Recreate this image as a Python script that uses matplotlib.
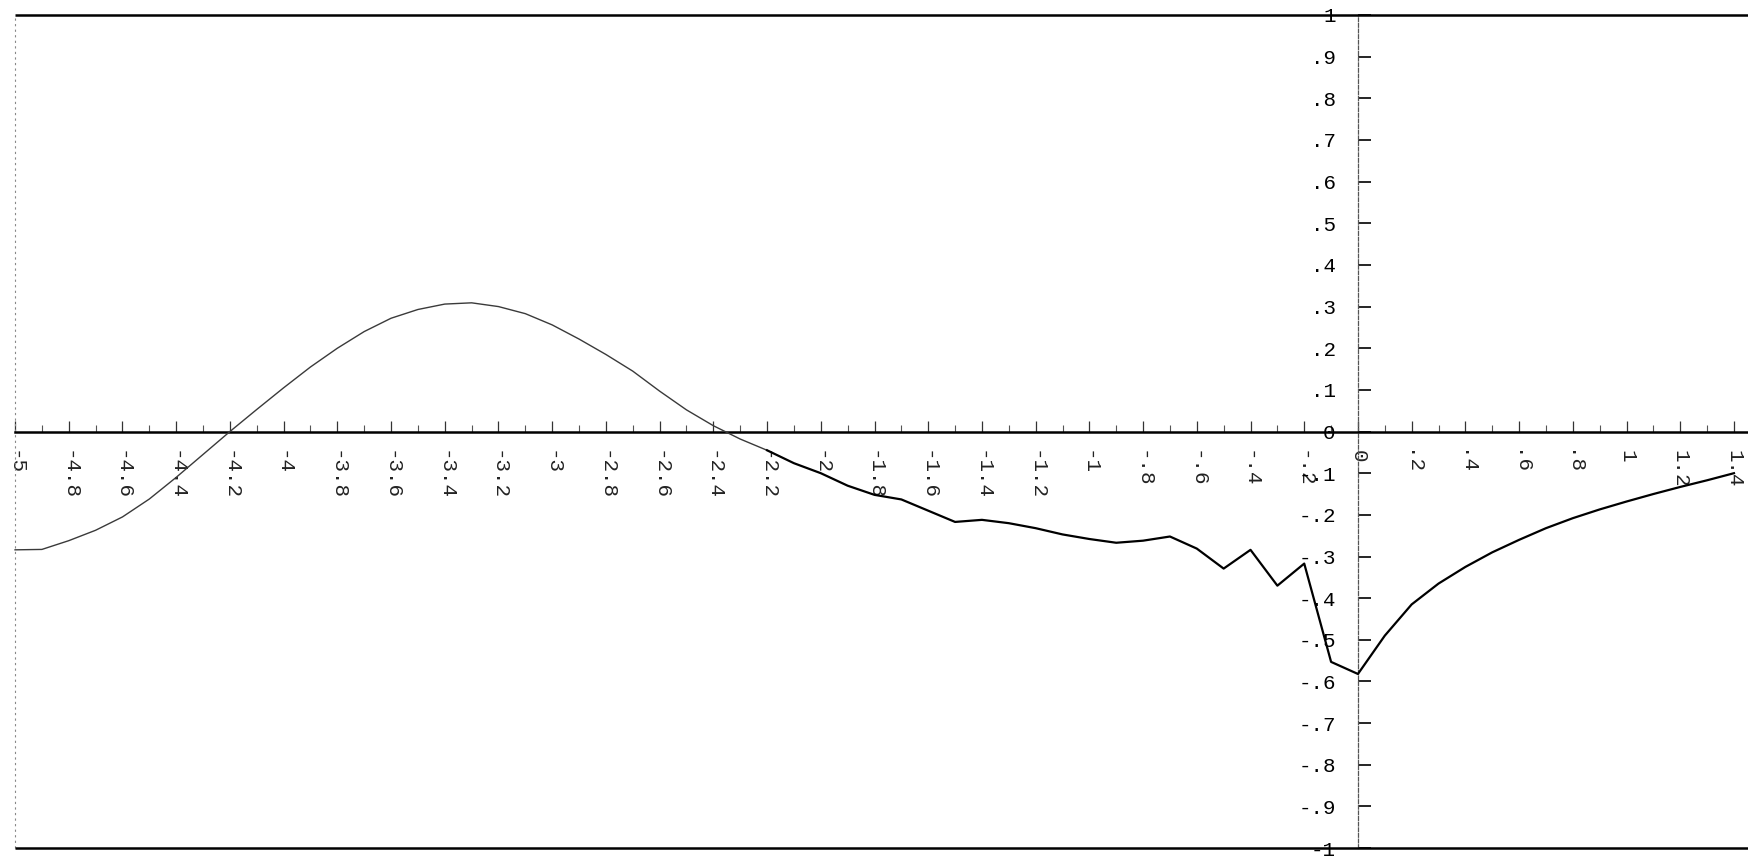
import numpy as np
import matplotlib
matplotlib.use("Agg")
import matplotlib.pyplot as plt
from matplotlib.ticker import FixedLocator, MultipleLocator

# sample positions (step 0.1 from -5 to 1.4)
x_points = np.round(np.arange(-50, 15) / 10.0, 1)

# sampled response values
y_points = [
    -0.284, -0.283, -0.262, -0.237, -0.205, -0.162, -0.110, -0.055,   # -5.0 .. -4.3
     0.000,  0.053,  0.105,  0.155,  0.200,  0.240,  0.272,  0.293,   # -4.2 .. -3.5
     0.306,  0.309,  0.300,  0.283,  0.256,  0.222,  0.185,  0.145,   # -3.4 .. -2.7
     0.097,  0.052,  0.014, -0.018, -0.045, -0.076, -0.100, -0.130,   # -2.6 .. -1.9
    -0.152, -0.163, -0.190, -0.217, -0.212, -0.220, -0.232, -0.247,   # -1.8 .. -1.1
    -0.258, -0.267, -0.262, -0.252, -0.281, -0.329, -0.284, -0.370,   # -1.0 .. -0.3
    -0.317, -0.553, -0.582, -0.490, -0.415, -0.365, -0.325, -0.290,   # -0.2 .. 0.5
    -0.260, -0.232, -0.208, -0.187, -0.168, -0.150, -0.133, -0.117,   #  0.6 .. 1.3
    -0.100,                                                           #  1.4
]

x_tick_values = [round(-5 + 0.2 * i, 1) for i in range(33)]
x_tick_labels = ["-5", "-4.8", "-4.6", "-4.4", "-4.2", "-4", "-3.8", "-3.6",
                 "-3.4", "-3.2", "-3", "-2.8", "-2.6", "-2.4", "-2.2", "-2",
                 "-1.8", "-1.6", "-1.4", "-1.2", "-1", "-.8", "-.6", "-.4",
                 "-.2", "0", ".2", ".4", ".6", ".8", "1", "1.2", "1.4"]
y_tick_values = [round(1 - 0.1 * i, 1) for i in range(21)]
y_tick_labels = ["1", ".9", ".8", ".7", ".6", ".5", ".4", ".3", ".2", ".1",
                 "0", "-.1", "-.2", "-.3", "-.4", "-.5", "-.6", "-.7", "-.8",
                 "-.9", "-1"]

fig = plt.figure(figsize=(17.49, 8.56), dpi=100)
ax = fig.add_axes([0, 0, 1, 1])
ax.set_xlim(-5.056, 1.456)
ax.set_ylim(-1.019, 1.036)

x_font = {"family": "Liberation Mono", "size": 15, "color": "#222222"}
y_font = {"family": "Liberation Mono", "size": 15, "color": "black"}

# axes crossing at the origin
for side in ("top", "right"):
    ax.spines[side].set_visible(False)
ax.spines["bottom"].set_position(("data", 0))
ax.spines["bottom"].set_bounds(-5, 1.456)
ax.spines["bottom"].set_linewidth(1.8)
ax.spines["bottom"].set_color("black")
ax.spines["left"].set_position(("data", 0))
ax.spines["left"].set_bounds(-1, 1)
ax.spines["left"].set_linewidth(0.9)
ax.spines["left"].set_color("#555555")
ax.spines["left"].set_linestyle((0, (3, 1.5)))

# x ticks: short marks above the axis, labels rotated below it
ax.xaxis.set_major_locator(FixedLocator(x_tick_values))
ax.xaxis.set_minor_locator(MultipleLocator(0.1))
ax.set_xticklabels(x_tick_labels, rotation=-90, fontdict=x_font)
ax.tick_params(axis="x", which="major", direction="in", length=8, width=0.9,
               color="#333333", pad=13)
ax.tick_params(axis="x", which="minor", direction="in", length=5, width=0.8,
               color="#555555")
for lbl in ax.get_xticklabels():
    lbl.set_va("top")
    lbl.set_ha("center")

# y ticks: marks to the right of the axis, labels on the left
ax.yaxis.set_major_locator(FixedLocator(y_tick_values))
ax.set_yticklabels(y_tick_labels, fontdict=y_font)
ax.tick_params(axis="y", which="major", direction="in", length=9, width=1.2,
               color="black", pad=16)

# frame lines at y = 1 and y = -1, and the left boundary at x = -5
ax.hlines([1, -1], -5, 1.456, colors="black", linewidth=1.8, zorder=3)
ax.vlines(-5, -1, 1, colors="#888888", linewidth=0.8,
          linestyles=(0, (2, 3)), zorder=2)

# the curve: lighter stroke on the left part, heavier from x = -2.2 onward
x_arr = np.asarray(x_points)
y_arr = np.asarray(y_points)
split = int(np.where(x_arr == -2.2)[0][0])
ax.plot(x_arr[:split + 1], y_arr[:split + 1], color="#3a3a3a", linewidth=1.0,
        zorder=4)
ax.plot(x_arr[split:], y_arr[split:], color="black", linewidth=1.6, zorder=4)

fig.savefig("out.png", dpi=100, facecolor="white")
